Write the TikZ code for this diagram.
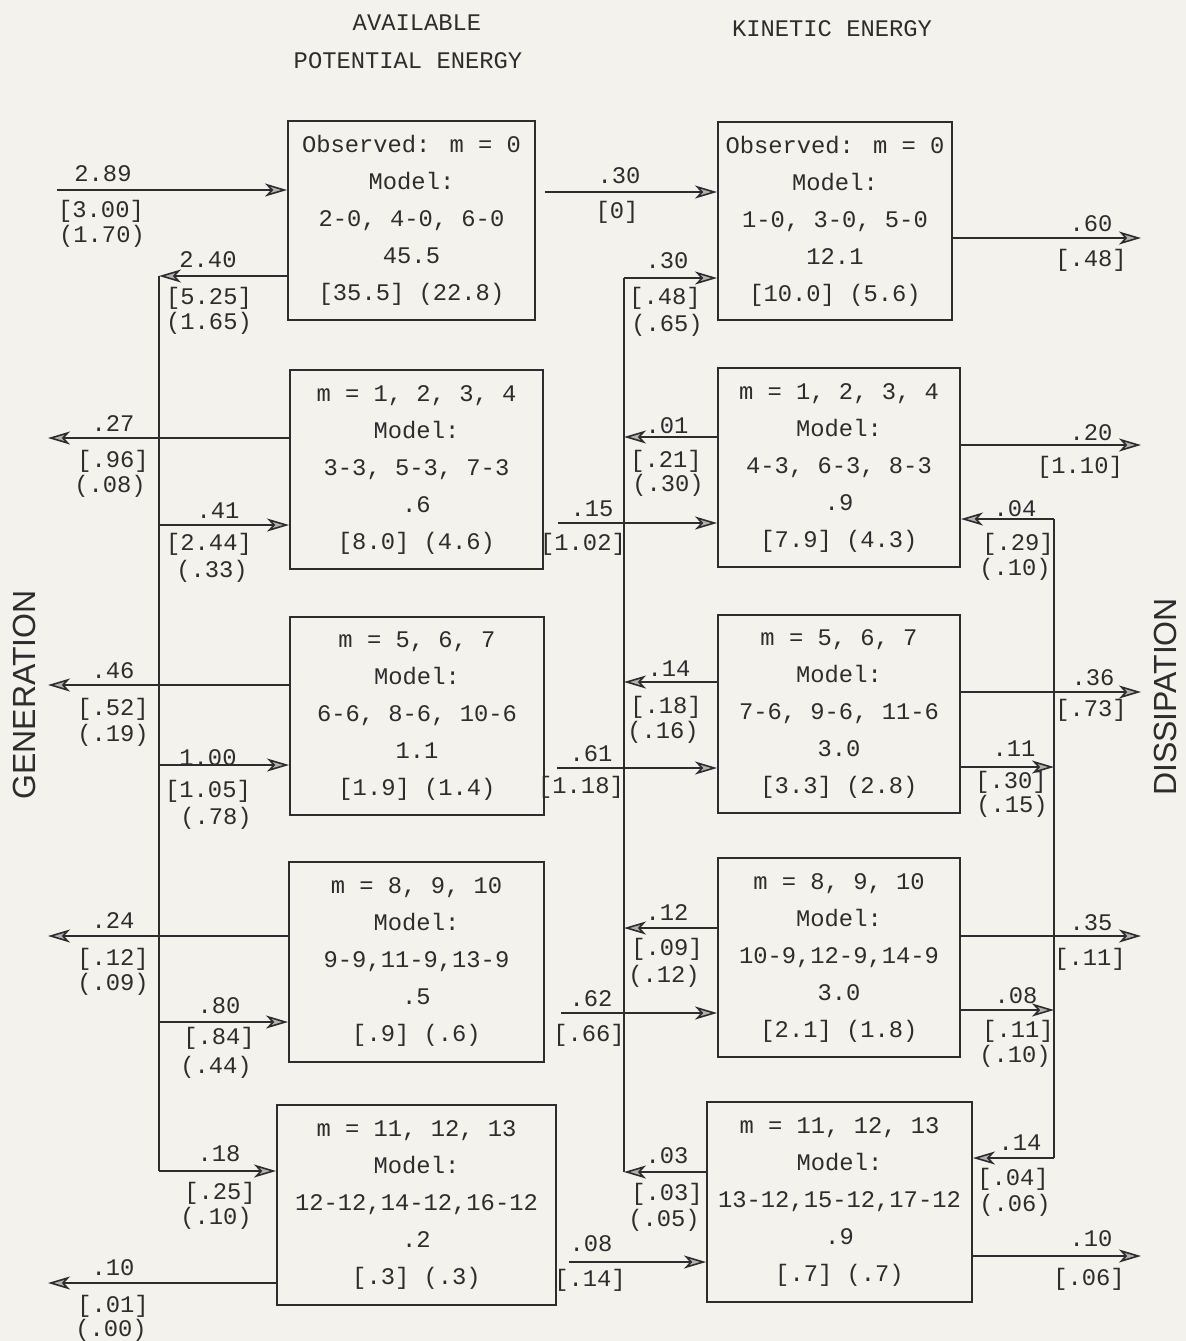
\documentclass[tikz,border=0pt]{standalone}
\usepackage{fontspec}
\newfontfamily\labsans{Liberation Sans}
\newfontfamily\typew{Liberation Mono}
\usetikzlibrary{arrows.meta}
\definecolor{paper}{RGB}{243,242,236}
\definecolor{ink}{RGB}{45,45,45}
\newcommand\tfont{\typew\fontsize{11.9}{18.5}\selectfont}
\begin{document}
\begin{tikzpicture}[x=0.5pt,y=-0.5pt,
  box/.style={draw=ink, line width=0.95pt, inner sep=0pt, align=center, font=\tfont, text=ink},
  arr/.style={draw=ink, line width=0.8pt, -{Stealth[length=11pt,width=6.5pt,inset=3pt,fill=gray!60]}},
  bus/.style={draw=ink, line width=0.8pt},
  lab/.style={font=\tfont, text=ink, anchor=base, inner sep=0pt},
  side/.style={font=\labsans\fontsize{16}{16}\selectfont, text=ink, rotate=90, inner sep=0pt}]
\fill[paper] (0,0) rectangle (1186,1341);
\useasboundingbox (0,0) rectangle (1186,1341);

% headers
\node[lab] (h1) at (417,30) {AVAILABLE};
\node[lab] (h2) at (408,68) {POTENTIAL ENERGY};
\node[lab] (h3) at (832,36) {KINETIC ENERGY};
\node[side] (gen) at (24,695) {GENERATION};
\node[side] (dis) at (1165,697) {DISSIPATION};

% APE boxes
\node[box, minimum width=123.5pt, minimum height=99.5pt] (A1) at (411.5,220.5)
  {Observed: m = 0\\Model:\\2-0, 4-0, 6-0\\45.5\\{[35.5] (22.8)}};
\node[box, minimum width=126.5pt, minimum height=99.5pt] (A2) at (416.5,469.5)
  {m = 1, 2, 3, 4\\Model:\\3-3, 5-3, 7-3\\.6\\{[8.0] (4.6)}};
\node[box, minimum width=127pt, minimum height=99pt] (A3) at (417,716)
  {m = 5, 6, 7\\Model:\\6-6, 8-6, 10-6\\1.1\\{[1.9] (1.4)}};
\node[box, minimum width=127.5pt, minimum height=100pt] (A4) at (416.5,962)
  {m = 8, 9, 10\\Model:\\9-9,11-9,13-9\\.5\\{[.9] (.6)}};
\node[box, minimum width=139.5pt, minimum height=100pt] (A5) at (416.5,1205)
  {m = 11, 12, 13\\Model:\\12-12,14-12,16-12\\.2\\{[.3] (.3)}};

% KE boxes
\node[box, minimum width=117pt, minimum height=99pt] (K1) at (835,221)
  {Observed: m = 0\\Model:\\1-0, 3-0, 5-0\\12.1\\{[10.0] (5.6)}};
\node[box, minimum width=121pt, minimum height=99.5pt] (K2) at (839,467.5)
  {m = 1, 2, 3, 4\\Model:\\4-3, 6-3, 8-3\\.9\\{[7.9] (4.3)}};
\node[box, minimum width=121pt, minimum height=99pt] (K3) at (839,714)
  {m = 5, 6, 7\\Model:\\7-6, 9-6, 11-6\\3.0\\{[3.3] (2.8)}};
\node[box, minimum width=121pt, minimum height=99.5pt] (K4) at (839,957.5)
  {m = 8, 9, 10\\Model:\\10-9,12-9,14-9\\3.0\\{[2.1] (1.8)}};
\node[box, minimum width=132.5pt, minimum height=100pt] (K5) at (839.5,1202)
  {m = 11, 12, 13\\Model:\\13-12,15-12,17-12\\.9\\{[.7] (.7)}};

% coordinates
\coordinate (lbTop) at (159,276);
\coordinate (lbBot) at (159,1171);
\coordinate (mbTop) at (624,278);
\coordinate (mbBot) at (624,1172);
\coordinate (rbTop) at (1054,519);
\coordinate (rbBot) at (1054,1158);

% buses
\draw[bus] (lbTop) -- (lbBot);
\draw[bus] (mbTop) -- (mbBot);
\draw[bus] (rbTop) -- (rbBot);

% left side
\coordinate (in289) at (57,190);
\draw[arr] (in289) -- (in289 -| A1.west);
\draw[arr] (lbTop -| A1.west) -- (lbTop);
\coordinate (g27) at (48,438);  \draw[arr] (g27 -| A2.west) -- (g27);
\coordinate (g46) at (48,685);  \draw[arr] (g46 -| A3.west) -- (g46);
\coordinate (g24) at (48,936);  \draw[arr] (g24 -| A4.west) -- (g24);
\coordinate (g10) at (48,1283); \draw[arr] (g10 -| A5.west) -- (g10);
\coordinate (l41) at (159,525);  \draw[arr] (l41) -- (l41 -| A2.west);
\coordinate (l100) at (159,765); \draw[arr] (l100) -- (l100 -| A3.west);
\coordinate (l80) at (159,1022); \draw[arr] (l80) -- (l80 -| A4.west);
\draw[arr] (lbBot) -- (lbBot -| A5.west);

% middle
\coordinate (c30) at (545,192);  \draw[arr] (c30) -- (c30 -| K1.west);
\draw[arr] (mbTop) -- (mbTop -| K1.west);
\coordinate (m01) at (624,437);  \draw[arr] (m01 -| K2.west) -- (m01);
\coordinate (m14) at (624,682);  \draw[arr] (m14 -| K3.west) -- (m14);
\coordinate (m12) at (624,928);  \draw[arr] (m12 -| K4.west) -- (m12);
\draw[arr] (mbBot -| K5.west) -- (mbBot);
\coordinate (c15) at (558,523);  \draw[arr] (c15) -- (c15 -| K2.west);
\coordinate (c61) at (557,768);  \draw[arr] (c61) -- (c61 -| K3.west);
\coordinate (c62) at (561,1013); \draw[arr] (c62) -- (c62 -| K4.west);
\coordinate (c08) at (569,1262); \draw[arr] (c08) -- (c08 -| K5.west);

% right
\coordinate (d60) at (1141,238);  \draw[arr] (d60 -| K1.east) -- (d60);
\coordinate (d20) at (1141,445);  \draw[arr] (d20 -| K2.east) -- (d20);
\coordinate (d36) at (1141,692);  \draw[arr] (d36 -| K3.east) -- (d36);
\coordinate (d35) at (1141,936);  \draw[arr] (d35 -| K4.east) -- (d35);
\coordinate (d10) at (1141,1256); \draw[arr] (d10 -| K5.east) -- (d10);
\draw[arr] (rbTop) -- (rbTop -| K2.east);
\draw[arr] (rbBot) -- (rbBot -| K5.east);
\coordinate (r11) at (1054,767);  \draw[arr] (r11 -| K3.east) -- (r11);
\coordinate (r08) at (1054,1010); \draw[arr] (r08 -| K4.east) -- (r08);

% labels left
\node[lab] (t1) at (103,181) {2.89};  \node[lab] (t2) at (101,217) {[3.00]}; \node[lab] (t3) at (102,242) {(1.70)};
\node[lab] (t4) at (208,267) {2.40};  \node[lab] (t5) at (209,304) {[5.25]}; \node[lab] (t6) at (209,329) {(1.65)};
\node[lab] (t7) at (113,431) {.27};   \node[lab] (t8) at (113,467) {[.96]};  \node[lab] (t9) at (110,492) {(.08)};
\node[lab] (t10) at (218,518) {.41};  \node[lab] (t11) at (209,550) {[2.44]}; \node[lab] (t12) at (212,577) {(.33)};
\node[lab] (t13) at (113,678) {.46};  \node[lab] (t14) at (113,715) {[.52]};  \node[lab] (t15) at (113,741) {(.19)};
\node[lab] (t16) at (208,765) {1.00}; \node[lab] (t17) at (208,797) {[1.05]}; \node[lab] (t18) at (216,824) {(.78)};
\node[lab] (t19) at (113,928) {.24};  \node[lab] (t20) at (113,965) {[.12]};  \node[lab] (t21) at (113,990) {(.09)};
\node[lab] (t22) at (219,1013) {.80}; \node[lab] (t23) at (219,1044) {[.84]}; \node[lab] (t24) at (216,1073) {(.44)};
\node[lab] (t25) at (219,1161) {.18}; \node[lab] (t26) at (220,1199) {[.25]}; \node[lab] (t27) at (216,1224) {(.10)};
\node[lab] (t28) at (113,1275) {.10}; \node[lab] (t29) at (113,1312) {[.01]}; \node[lab] (t30) at (111,1336) {(.00)};

% labels middle
\node[lab] (u1) at (619,183) {.30};   \node[lab] (u2) at (617,218) {[0]};
\node[lab] (u3) at (667,268) {.30};   \node[lab] (u4) at (665,304) {[.48]};  \node[lab] (u5) at (667,331) {(.65)};
\node[lab] (u6) at (667,433) {.01};   \node[lab] (u7) at (666,467) {[.21]};  \node[lab] (u8) at (668,491) {(.30)};
\node[lab] (u9) at (592,516) {.15};   \node[lab] (u10) at (583,550) {[1.02]};
\node[lab] (u11) at (669,676) {.14};  \node[lab] (u12) at (666,713) {[.18]}; \node[lab] (u13) at (663,738) {(.16)};
\node[lab] (u14) at (591,761) {.61};  \node[lab] (u15) at (581,793) {[1.18]};
\node[lab] (u16) at (667,920) {.12};  \node[lab] (u17) at (667,955) {[.09]}; \node[lab] (u18) at (664,982) {(.12)};
\node[lab] (u19) at (591,1006) {.62}; \node[lab] (u20) at (589,1041) {[.66]};
\node[lab] (u21) at (667,1163) {.03}; \node[lab] (u22) at (667,1200) {[.03]}; \node[lab] (u23) at (664,1226) {(.05)};
\node[lab] (u24) at (591,1251) {.08}; \node[lab] (u25) at (590,1286) {[.14]};

% labels right
\node[lab] (v1) at (1091,231) {.60};   \node[lab] (v2) at (1091,266) {[.48]};
\node[lab] (v3) at (1091,440) {.20};   \node[lab] (v4) at (1080,473) {[1.10]};
\node[lab] (v5) at (1015,516) {.04};   \node[lab] (v6) at (1018,550) {[.29]};  \node[lab] (v7) at (1015,575) {(.10)};
\node[lab] (v8) at (1093,685) {.36};   \node[lab] (v9) at (1091,716) {[.73]};
\node[lab] (v10) at (1014,756) {.11};  \node[lab] (v11) at (1011,788) {[.30]}; \node[lab] (v12) at (1012,812) {(.15)};
\node[lab] (v13) at (1091,930) {.35};  \node[lab] (v14) at (1090,965) {[.11]};
\node[lab] (v15) at (1016,1003) {.08}; \node[lab] (v16) at (1018,1037) {[.11]}; \node[lab] (v17) at (1015,1062) {(.10)};
\node[lab] (v18) at (1020,1150) {.14}; \node[lab] (v19) at (1013,1185) {[.04]}; \node[lab] (v20) at (1015,1211) {(.06)};
\node[lab] (v21) at (1091,1246) {.10}; \node[lab] (v22) at (1089,1285) {[.06]};
\end{tikzpicture}
\end{document}
